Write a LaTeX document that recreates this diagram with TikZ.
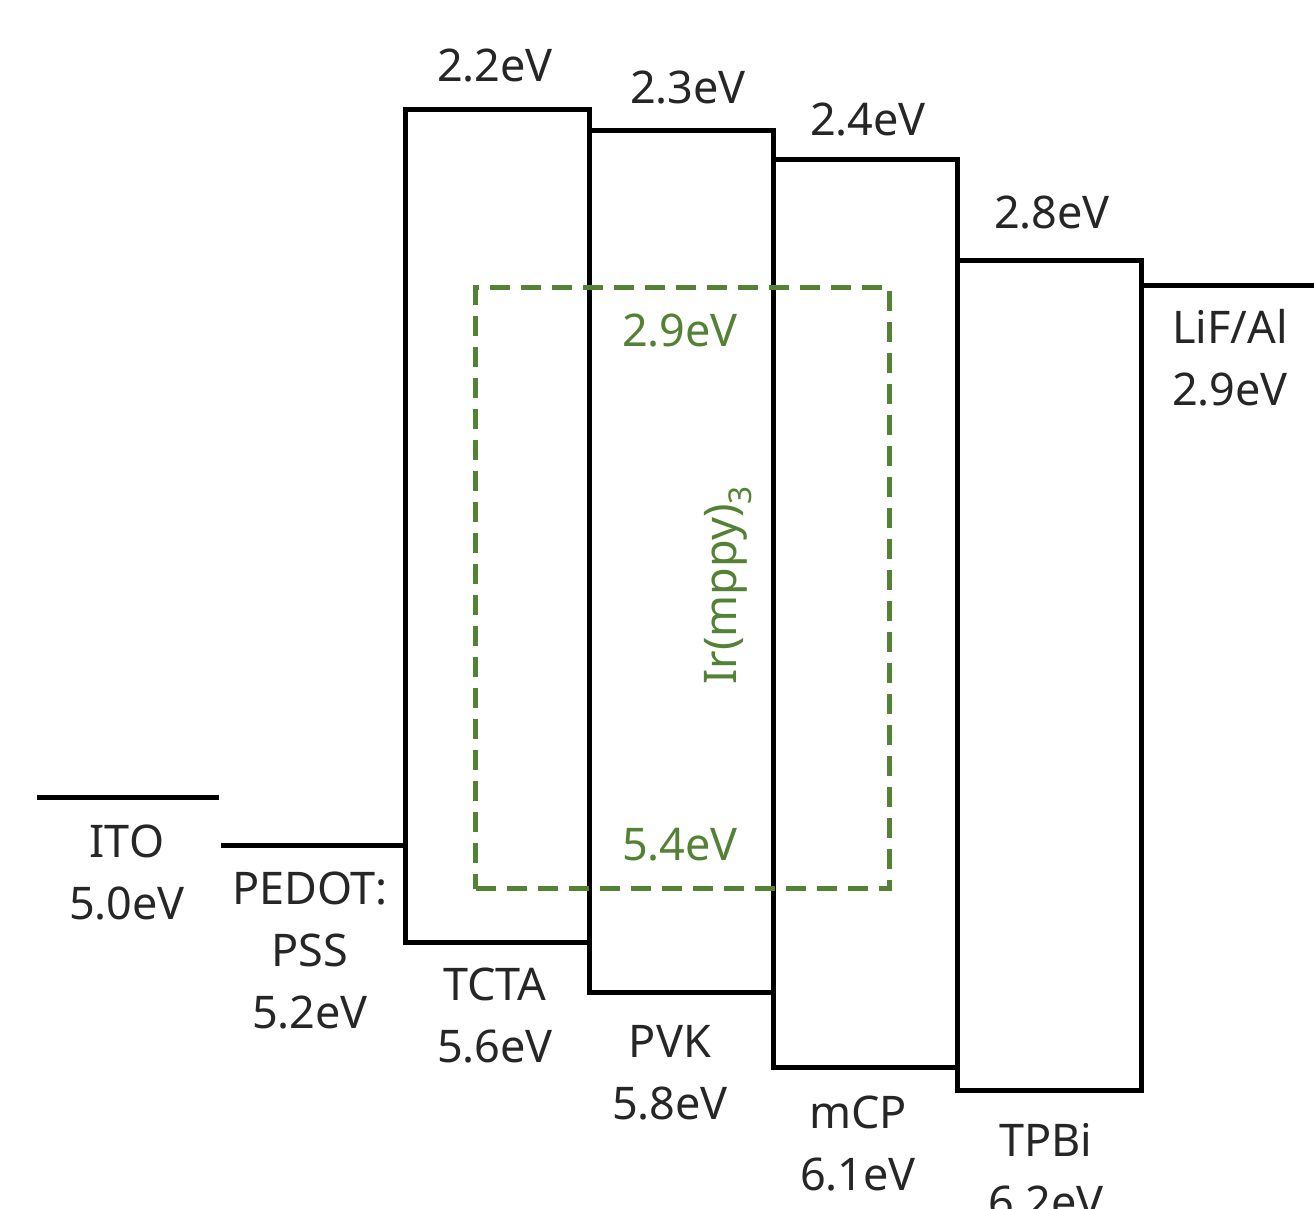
\documentclass[tikz,border=0pt]{standalone}
\usepackage{fontspec}
\setmainfont{Noto Sans}
\definecolor{dopant}{RGB}{84,130,53}
\begin{document}
\begin{tikzpicture}[x=1pt,y=-1pt,
  lvl/.style={draw=black,line width=5pt,inner sep=0pt,anchor=north west},
  lbl/.style={font=\fontsize{45}{62}\selectfont,align=center,text=black!85,inner sep=0pt},
  glbl/.style={lbl,text=dopant},
  electrode/.style={line width=5pt}]
\useasboundingbox (0,0) rectangle (1314,1209);
% electrodes
\coordinate (itoL) at (37,797);
\coordinate (itoR) at (219,797);
\coordinate (pedL) at (221,845);
\coordinate (pedR) at (403,845);
\coordinate (lifL) at (1139,285);
\coordinate (lifR) at (1316,285);
\draw[electrode] (itoL) -- (itoR);
\draw[electrode] (pedL) -- (pedR);
\draw[electrode] (lifL) -- (lifR);
% layer boxes
\node[lvl,minimum width=184pt,minimum height=833pt] (tcta) at (403,107) {};
\node[lvl,minimum width=184pt,minimum height=862pt] (pvk) at (587,128) {};
\node[lvl,minimum width=184pt,minimum height=908pt] (mcp) at (771,157) {};
\node[lvl,minimum width=184pt,minimum height=830pt] (tpbi) at (955,258) {};
% dopant box
\node[draw=dopant,line width=5pt,dash pattern=on 20pt off 11pt,inner sep=0pt,
  anchor=north west,minimum width=414pt,minimum height=601pt] (dop) at (473,285) {};
% top labels
\node[lbl] (t1) at (495,66) {2.2eV};
\node[lbl] (t2) at (688,88) {2.3eV};
\node[lbl] (t3) at (868,120) {2.4eV};
\node[lbl] (t4) at (1052,213) {2.8eV};
\node[lbl] (lif) at (1230,358) {LiF/Al\\2.9eV};
% bottom labels
\node[lbl] (ito) at (127,872) {ITO\\5.0eV};
\node[lbl] (ped) at (310,950) {PEDOT:\\PSS\\5.2eV};
\node[lbl] (b1) at (495,1016) {TCTA\\5.6eV};
\node[lbl] (b2) at (670,1073) {PVK\\5.8eV};
\node[lbl] (b3) at (858,1144) {mCP\\6.1eV};
\node[lbl] (b4) at (1046,1171) {TPBi\\6.2eV};
% dopant labels
\node[glbl] (g1) at (680,331) {2.9eV};
\node[glbl] (g2) at (680,845) {5.4eV};
\node[glbl,rotate=90] (g3) at (728,585) {Ir(mppy)\textsubscript{3}};
\end{tikzpicture}
\end{document}
